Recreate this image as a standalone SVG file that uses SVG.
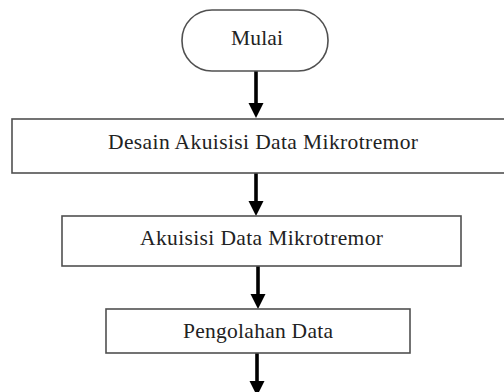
<svg xmlns="http://www.w3.org/2000/svg" width="504" height="392" viewBox="0 0 504 392">
<style>
.box{fill:#fff;stroke:#505050;stroke-width:1.6}
.lbl{font-family:"Liberation Serif","Times New Roman",serif;font-size:21.5px;fill:#222;text-anchor:middle}
.arr{stroke:#000;stroke-width:3.6;fill:none}
.head{fill:#000}
</style>
<rect width="504" height="392" fill="#fff"/>
<g id="connectors">
<line class="arr" x1="256" y1="71" x2="256" y2="104"/>
<polygon class="head" points="248.5,103 263.5,103 256,118"/>
<line class="arr" x1="256" y1="173" x2="256" y2="202"/>
<polygon class="head" points="248.5,201 263.5,201 256,216"/>
<line class="arr" x1="258" y1="266" x2="258" y2="295"/>
<polygon class="head" points="250.5,294 265.5,294 258,309"/>
<line class="arr" x1="257" y1="353" x2="257" y2="382"/>
<polygon class="head" points="249.5,381 264.5,381 257,396"/>
</g>
<g id="mulai">
<rect class="box" x="182" y="10" width="146" height="61" rx="30" ry="30"/>
<text class="lbl" x="257" y="45" textLength="52">Mulai</text>
</g>
<g id="desain">
<rect class="box" x="12" y="119" width="508" height="54"/>
<text class="lbl" x="263" y="149" textLength="310">Desain Akuisisi Data Mikrotremor</text>
</g>
<g id="akuisisi">
<rect class="box" x="62" y="216" width="399" height="50"/>
<text class="lbl" x="261.5" y="245" textLength="243">Akuisisi Data Mikrotremor</text>
</g>
<g id="pengolahan">
<rect class="box" x="106" y="309" width="304" height="44"/>
<text class="lbl" x="258" y="338" textLength="150">Pengolahan Data</text>
</g>
</svg>
